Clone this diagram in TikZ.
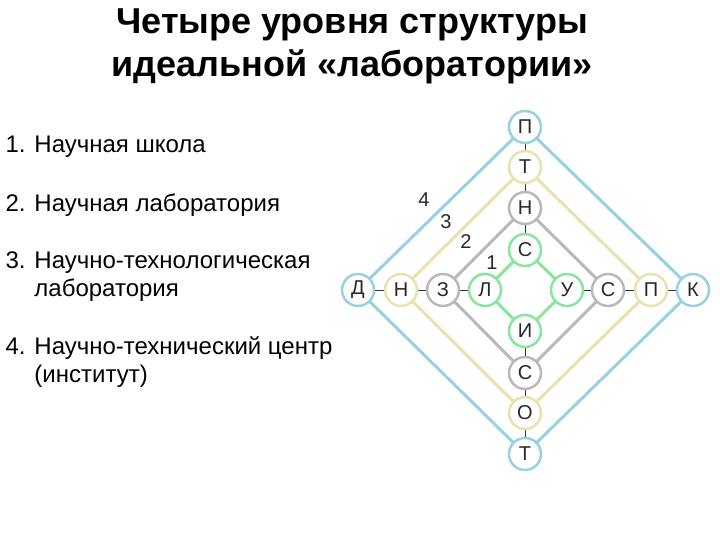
\documentclass[tikz,border=0pt]{standalone}
\usepackage{fontspec}
\setmainfont{Liberation Sans}
\definecolor{cb}{RGB}{150,210,225}
\definecolor{cy}{RGB}{235,225,175}
\definecolor{cg}{RGB}{185,185,185}
\definecolor{cn}{RGB}{135,230,155}
\definecolor{tx}{RGB}{40,40,40}
\begin{document}
\begin{tikzpicture}[x=1pt,y=-1pt,
  lt/.style={circle,draw=#1,line width=2.5pt,fill=white,minimum size=32pt,inner sep=0pt,font=\fontsize{20}{20}\selectfont,text=tx},
  ring/.style={draw=#1,line width=3pt},
  spoke/.style={draw=black!80,line width=0.8pt},
  li/.style={anchor=west,font=\fontsize{24}{28}\selectfont,text=black,align=left},
  num/.style={font=\fontsize{20}{20}\selectfont,text=tx}]
\useasboundingbox (0,0) rectangle (720,540);
\node[font=\bfseries\fontsize{36}{43}\selectfont,align=center] (title) at (352,46) {Четыре уровня структуры\\идеальной «лаборатории»};
\node[li] (l1) at (2,147) {1. Научная школа};
\node[li] (l2) at (2,205) {2. Научная лаборатория};
\node[li] (l3) at (2,277) {3. Научно-технологическая\\\phantom{3. }лаборатория};
\node[li] (l4) at (2,362) {4. Научно-технический центр\\\phantom{4. }(институт)};
\coordinate (d) at (358,290); \coordinate (h1) at (401,290); \coordinate (z) at (443,290); \coordinate (l) at (485,290);
\coordinate (u) at (567,290); \coordinate (s1) at (608,290); \coordinate (p1) at (651,290); \coordinate (k) at (693,290);
\coordinate (p) at (525,127); \coordinate (t) at (525,167); \coordinate (n) at (525,208); \coordinate (s) at (525,250);
\coordinate (i) at (525,331); \coordinate (s2) at (525,373); \coordinate (o) at (525,413); \coordinate (t2) at (525,454);
\draw[spoke] (d)--(l) (u)--(k) (p)--(s) (i)--(t2);
\draw[ring=cb] (p)--(k)--(t2)--(d)--cycle;
\draw[ring=cy] (t)--(p1)--(o)--(h1)--cycle;
\draw[ring=cg] (n)--(s1)--(s2)--(z)--cycle;
\draw[ring=cn] (s)--(u)--(i)--(l)--cycle;
\node[lt=cb] (nd) at (d) {Д}; \node[lt=cb] (nk) at (k) {К}; \node[lt=cb] (np) at (p) {П}; \node[lt=cb] (nt2) at (t2) {Т};
\node[lt=cy] (nh1) at (h1) {Н}; \node[lt=cy] (np1) at (p1) {П}; \node[lt=cy] (nt) at (t) {Т}; \node[lt=cy] (no) at (o) {О};
\node[lt=cg] (nz) at (z) {З}; \node[lt=cg] (ns1) at (s1) {С}; \node[lt=cg] (nn) at (n) {Н}; \node[lt=cg] (ns2) at (s2) {С};
\node[lt=cn] (nl) at (l) {Л}; \node[lt=cn] (nu) at (u) {У}; \node[lt=cn] (ns) at (s) {С}; \node[lt=cn] (ni) at (i) {И};
\node[num] (n4) at (424,200) {4};
\node[num] (n3) at (446,222) {3};
\node[num] (n2) at (466,242) {2};
\node[num] (n1) at (492,263) {1};
\end{tikzpicture}
\end{document}
